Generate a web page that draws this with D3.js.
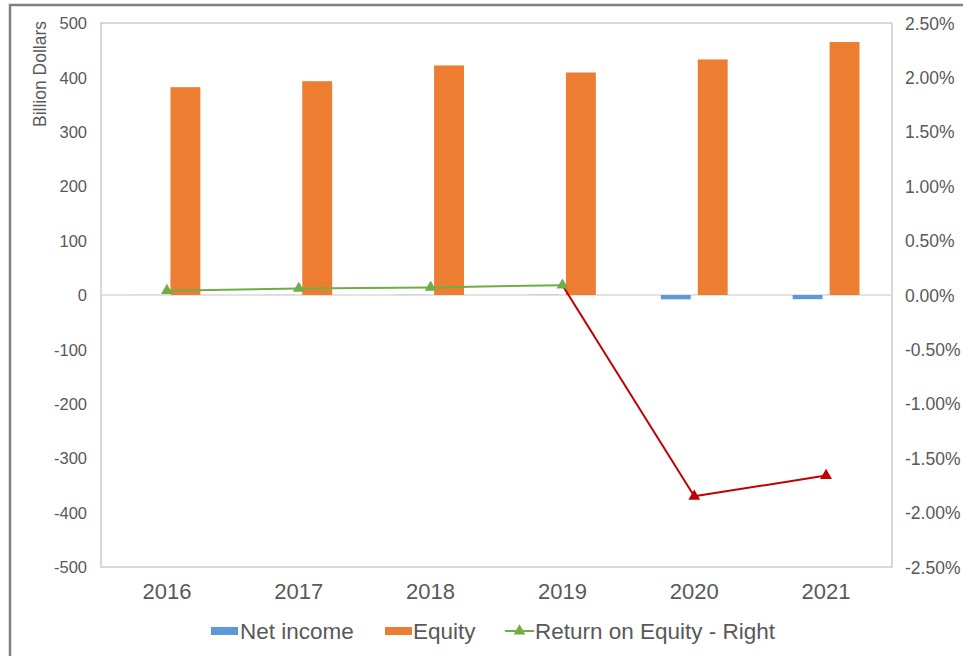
<!DOCTYPE html>
<html>
<head>
<meta charset="utf-8">
<script src="https://cdn.jsdelivr.net/npm/d3@7"></script>
<style>
  body { margin: 0; background: #fff; }
  text { font-family: Arial, "Liberation Sans", sans-serif; fill: #595959; }
</style>
</head>
<body>
<svg id="chart"></svg>
<script>
// Chart data
const years = ["2016", "2017", "2018", "2019", "2020", "2021"];
const netIncome = [0.15, 0.24, 0.3, 0.37, -8.0, -7.7];
const equity = [382, 393, 422, 409, 433, 465];
const roe = [0.0004, 0.0006, 0.0007, 0.0009, -0.0185, -0.0166];
const leftTicks = [-500, -400, -300, -200, -100, 0, 100, 200, 300, 400, 500];
const rightTicks = [-0.025, -0.02, -0.015, -0.01, -0.005, 0, 0.005, 0.01, 0.015, 0.02, 0.025];
const seriesNames = ["Net income", "Equity", "Return on Equity - Right"];

const width = 963;
const height = 656;
const plot = { left: 101, right: 892, top: 23, bottom: 567 };

const colors = { "Net income": "#5B9BD5", "Equity": "#ED7D31" };
const posColor = "#70AD47";
const negColor = "#C00000";

// plain hyphen for negatives, like the original
const hyphen = f => d => f(d).replace("\u2212", "-");

const svg = d3.select("#chart")
    .attr("width", width)
    .attr("height", height);

// outer frame (only top and left edges are visible in the crop)
svg.append("path")
    .attr("d", `M10,${height + 5}V5H${width + 5}`)
    .attr("fill", "none")
    .attr("stroke", "#808080")
    .attr("stroke-width", 2.5);

// Scales
const x0 = d3.scaleBand()
    .domain(years)
    .range([plot.left, plot.right]);

const x1 = d3.scaleBand()
    .domain(["Net income", "Equity"])
    .range([0, x0.bandwidth()])
    .paddingInner(0.19)
    .paddingOuter(0.88);

const yLeft = d3.scaleLinear()
    .domain([-500, 500])
    .range([plot.bottom, plot.top]);

const yRight = d3.scaleLinear()
    .domain([-0.025, 0.025])
    .range([plot.bottom, plot.top]);

// Plot area border
svg.append("rect")
    .attr("x", plot.left)
    .attr("y", plot.top)
    .attr("width", plot.right - plot.left)
    .attr("height", plot.bottom - plot.top)
    .attr("fill", "none")
    .attr("stroke", "#bfbfbf")
    .attr("stroke-width", 1.2);

// Zero line
svg.append("line")
    .attr("x1", plot.left)
    .attr("x2", plot.right)
    .attr("y1", yLeft(0))
    .attr("y2", yLeft(0))
    .attr("stroke", "#d9d9d9")
    .attr("stroke-width", 1.3);

// Left axis
const leftAxis = svg.append("g")
    .attr("transform", `translate(${plot.left - 14}, 0)`)
    .call(d3.axisLeft(yLeft).tickValues(leftTicks).tickSize(0).tickPadding(0)
        .tickFormat(hyphen(d3.format("d"))));
leftAxis.select(".domain").remove();
leftAxis.selectAll("text")
    .style("font-size", "16.5px")
    .attr("fill", "#595959")
    .attr("dy", "0.35em");

// Right axis
const rightAxis = svg.append("g")
    .attr("transform", `translate(${plot.right + 13}, 0)`)
    .call(d3.axisRight(yRight).tickValues(rightTicks).tickSize(0).tickPadding(0)
        .tickFormat(hyphen(d3.format(".2%"))));
rightAxis.select(".domain").remove();
rightAxis.selectAll("text")
    .style("font-size", "17.5px")
    .attr("fill", "#595959")
    .attr("dy", "0.35em");

// X axis labels
const xAxis = svg.append("g")
    .attr("transform", `translate(0, ${plot.bottom + 16})`)
    .call(d3.axisBottom(x0).tickSize(0).tickPadding(0));
xAxis.select(".domain").remove();
xAxis.selectAll("text")
    .style("font-size", "22px")
    .attr("fill", "#595959")
    .attr("dy", "0.72em");

// Y axis title
svg.append("text")
    .attr("transform", `translate(46, 74) rotate(-90)`)
    .attr("text-anchor", "middle")
    .style("font-size", "17.5px")
    .text("Billion Dollars");

// Bars
const barData = years.map((yr, i) => [
    { year: yr, key: "Net income", value: netIncome[i] },
    { year: yr, key: "Equity", value: equity[i] }
]).flat();

svg.selectAll(".bar")
    .data(barData)
    .enter()
    .append("rect")
    .attr("class", "bar")
    .attr("x", d => x0(d.year) + x1(d.key))
    .attr("y", d => yLeft(Math.max(0, d.value)))
    .attr("width", x1.bandwidth())
    .attr("height", d => Math.abs(yLeft(d.value) - yLeft(0)))
    .attr("fill", d => colors[d.key]);

// ROE line: segments take the colour of the point they lead into
const cx = yr => x0(yr) + x0.bandwidth() / 2;
const pts = years.map((yr, i) => ({ x: cx(yr), y: yRight(roe[i]), v: roe[i] }));

for (let i = 1; i < pts.length; i++) {
    svg.append("line")
        .attr("x1", pts[i - 1].x)
        .attr("y1", pts[i - 1].y)
        .attr("x2", pts[i].x)
        .attr("y2", pts[i].y)
        .attr("stroke", pts[i].v < 0 ? negColor : posColor)
        .attr("stroke-width", 2);
}

const tri = d3.symbol().type(d3.symbolTriangle).size(60);
svg.selectAll(".marker")
    .data(pts)
    .enter()
    .append("path")
    .attr("class", "marker")
    .attr("d", tri)
    .attr("transform", d => `translate(${d.x}, ${d.y})`)
    .attr("fill", d => d.v < 0 ? negColor : posColor);

// Legend
const legendY = 631;
const legend = svg.append("g");

legend.append("rect")
    .attr("x", 211).attr("y", legendY - 4)
    .attr("width", 27).attr("height", 8)
    .attr("fill", colors["Net income"]);
legend.append("text")
    .attr("x", 240).attr("y", legendY).attr("dy", "0.35em")
    .style("font-size", "22.5px")
    .text(seriesNames[0]);

legend.append("rect")
    .attr("x", 385).attr("y", legendY - 4)
    .attr("width", 27).attr("height", 8)
    .attr("fill", colors["Equity"]);
legend.append("text")
    .attr("x", 413).attr("y", legendY).attr("dy", "0.35em")
    .style("font-size", "22.5px")
    .text(seriesNames[1]);

legend.append("line")
    .attr("x1", 505).attr("x2", 534)
    .attr("y1", legendY).attr("y2", legendY)
    .attr("stroke", posColor).attr("stroke-width", 2);
legend.append("path")
    .attr("d", tri)
    .attr("transform", `translate(519.5, ${legendY})`)
    .attr("fill", posColor);
legend.append("text")
    .attr("x", 535).attr("y", legendY).attr("dy", "0.35em")
    .style("font-size", "22.5px")
    .text(seriesNames[2]);
</script>
</body>
</html>
